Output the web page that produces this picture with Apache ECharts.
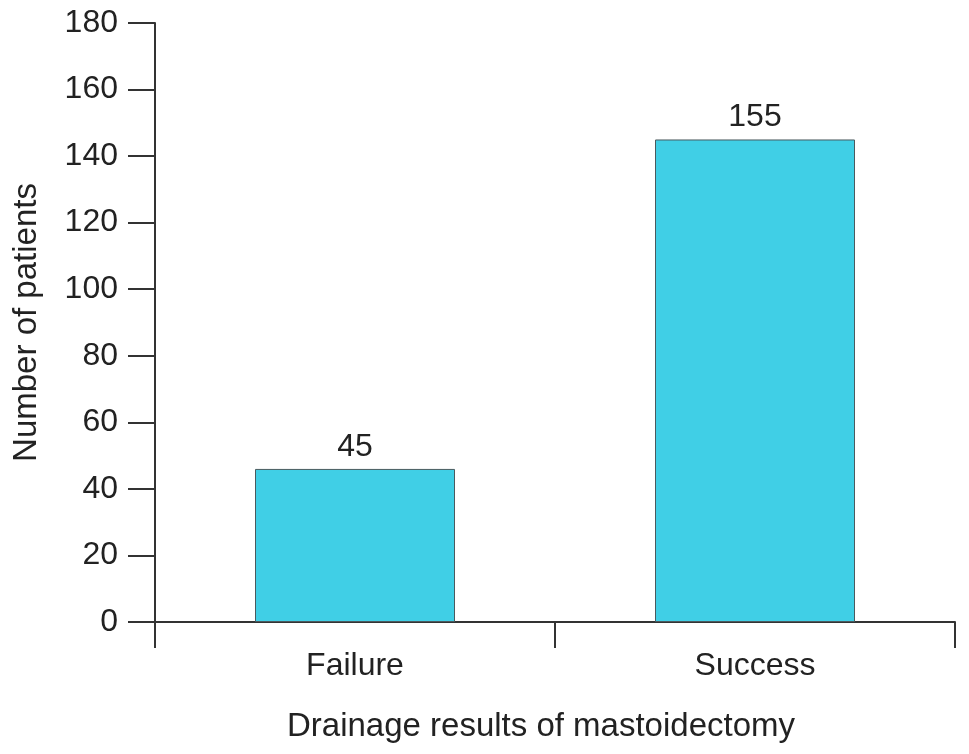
<!DOCTYPE html>
<html>
<head>
<meta charset="utf-8">
<script src="https://cdn.jsdelivr.net/npm/echarts@6/dist/echarts.min.js"></script>
<style>html,body{margin:0;padding:0;background:#fff;}#c{width:969px;height:754px;}</style>
</head>
<body>
<div id="c"></div>
<script>
var categories = ['Failure', 'Success'];
var barHeights = [46, 145];
var barLabels = ['45', '155'];
var yTicks = [0, 20, 40, 60, 80, 100, 120, 140, 160, 180];

var chart = echarts.init(document.getElementById('c'));
var font = 'Liberation Sans, Arial, Helvetica, sans-serif';
chart.setOption({
  animation: false,
  backgroundColor: '#fff',
  grid: { left: 155, right: 14, top: 23, bottom: 132, containLabel: false },
  xAxis: {
    type: 'category',
    data: categories,
    name: 'Drainage results of mastoidectomy',
    nameLocation: 'middle',
    nameGap: 88,
    nameTextStyle: { fontSize: 33, color: '#222', fontFamily: font, padding: [0, 28, 0, 0] },
    axisLine: { lineStyle: { color: '#333', width: 2 } },
    axisTick: { show: true, length: 26, lineStyle: { color: '#333', width: 2 } },
    axisLabel: { fontSize: 32, color: '#222', fontFamily: font, margin: 28 },
    splitLine: { show: false }
  },
  yAxis: {
    type: 'value',
    min: yTicks[0],
    max: yTicks[yTicks.length - 1],
    interval: 20,
    name: 'Number of patients',
    nameLocation: 'middle',
    nameGap: 112,
    nameTextStyle: { fontSize: 33, color: '#222', fontFamily: font },
    axisLine: { show: true, lineStyle: { color: '#333', width: 2 } },
    axisTick: { show: true, length: 27, lineStyle: { color: '#333', width: 2 } },
    axisLabel: { fontSize: 32, color: '#222', fontFamily: font, margin: 37 },
    splitLine: { show: false }
  },
  series: [{
    type: 'bar',
    data: barHeights,
    barWidth: '50%',
    itemStyle: { color: '#40CFE6', borderColor: '#4a5a5e', borderWidth: 1 },
    label: {
      show: true,
      position: 'top',
      distance: 6,
      fontSize: 32,
      color: '#222',
      fontFamily: font,
      formatter: function (p) { return barLabels[p.dataIndex]; }
    }
  }]
});
</script>
</body>
</html>
